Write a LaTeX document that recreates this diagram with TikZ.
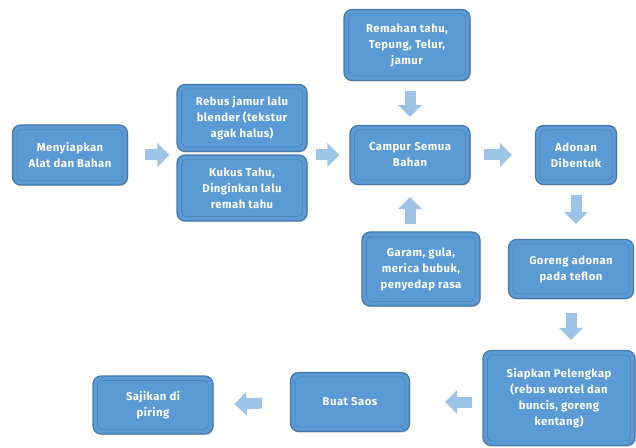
\documentclass[tikz,border=0pt]{standalone}
\usepackage{xcolor}
\usepackage{fontspec}
\setsansfont{Fira Sans}[LetterSpace=4, BoldFont={Fira Sans Bold}]
\usepackage{tikz}
\usetikzlibrary{positioning,arrows.meta,shadows}

\definecolor{boxfill}{HTML}{5B9BD5}
\definecolor{boxline}{HTML}{41719C}
\definecolor{arrfill}{HTML}{9DC3E6}

\begin{document}
\begin{tikzpicture}[x=1pt, y=1pt,
			box/.style={
				draw=boxline!80!boxfill, fill=boxfill, line width=1.2pt,
				rectangle, rounded corners=8pt, align=center,
				drop shadow={opacity=0.3, shadow xshift=0.8pt, shadow yshift=-1.2pt},
				text=white, font=\sffamily\bfseries\fontsize{11.3}{16}\selectfont
			},
			innerline/.style={
				draw=boxline!55!boxfill, line width=0.7pt, rounded corners=5pt
			},
			blk/.style={
				arrfill, line width=11pt,
				-{Triangle[length=12pt, width=23pt]}
			}
			]
			\useasboundingbox (0,0) rectangle (636,447);
			
			%==================== 左列 ====================
			\node[box, minimum width=115pt, minimum height=60pt] (menyiapkan) at (70,292)
				{Menyiapkan\\Alat dan Bahan};
			\node[box, minimum width=130pt, minimum height=67pt] (rebus) at (242,329)
				{Rebus jamur lalu\\blender (tekstur\\agak halus)};
			\node[box, minimum width=130pt, minimum height=66pt] (kukus) at (242,259)
				{Kukus Tahu,\\Dinginkan lalu\\remah tahu};
			
			%==================== 中列 ====================
			\node[box, minimum width=126pt, minimum height=71pt] (remahan) at (407,402)
				{Remahan tahu,\\Tepung, Telur,\\jamur};
			\node[box, minimum width=120pt, minimum height=59pt] (campur) at (410,292)
				{Campur Semua\\Bahan};
			\node[box, minimum width=118pt, minimum height=74pt] (garam) at (421,178)
				{Garam, gula,\\merica bubuk,\\penyedap rasa};
			
			%==================== 右列 ====================
			\node[box, minimum width=81pt, minimum height=59pt] (adonan) at (576,292)
				{Adonan\\Dibentuk};
			\node[box, minimum width=125pt, minimum height=59pt] (goreng) at (571,178)
				{Goreng adonan\\pada teflon};
			\node[box, minimum width=152pt, minimum height=95pt] (siapkan) at (559,49)
				{Siapkan Pelengkap\\(rebus wortel dan\\buncis, goreng\\kentang)};
			
			%==================== 底行 ====================
			\node[box, minimum width=119pt, minimum height=59pt] (saos) at (350,45)
				{Buat Saos};
			\node[box, minimum width=120pt, minimum height=58pt] (sajikan) at (153,42)
				{Sajikan di\\piring};
			
			%==================== 内框线 ====================
			\foreach \n in {menyiapkan,rebus,kukus,remahan,campur,garam,adonan,goreng,siapkan,saos,sajikan}
				\draw[innerline] ([shift={(5pt,5pt)}]\n.south west) rectangle ([shift={(-5pt,-5pt)}]\n.north east);
			
			%==================== 箭头 ====================
			\draw[blk, shorten <=17pt, shorten >=7pt] (menyiapkan.east) -- (menyiapkan.east -| rebus.west);
			\draw[blk, shorten <=8pt, shorten >=10pt] (campur.west -| rebus.east) -- (campur.west);
			\draw[blk, shorten <=10pt, shorten >=8pt] (remahan.south -| campur.north) -- (campur.north);
			\draw[blk, shorten <=7pt, shorten >=12pt] (garam.north -| campur.south) -- (campur.south);
			\draw[blk, shorten <=13pt, shorten >=23pt] (campur.east) -- (adonan.west);
			\draw[blk, shorten <=10pt, shorten >=15pt] (adonan.south) -- (adonan.south |- goreng.north);
			\draw[blk, shorten <=14pt, shorten >=10pt] (goreng.south) -- (goreng.south |- siapkan.north);
			\draw[blk, shorten <=10pt, shorten >=35pt] (siapkan.west |- saos.east) -- (saos.east);
			\draw[blk, shorten <=28pt, shorten >=21pt] (saos.west) -- (sajikan.east);
			
		\end{tikzpicture}
\end{document}
